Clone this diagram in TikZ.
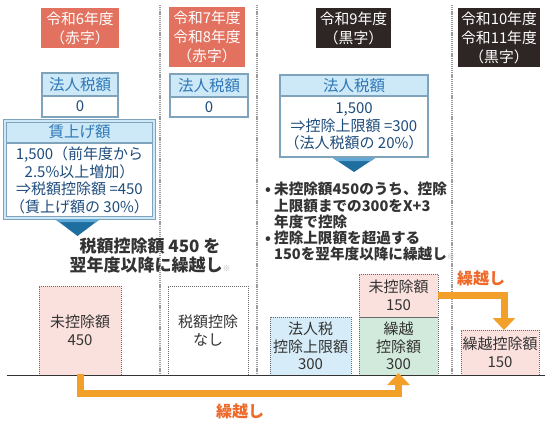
\documentclass[tikz,border=0pt]{standalone}
\usepackage{fontspec}
\newfontfamily\cjk{Noto Sans CJK JP}
\usetikzlibrary{arrows.meta}
\definecolor{hred}{HTML}{E2725F}
\definecolor{hdark}{HTML}{2E2624}
\definecolor{tblline}{HTML}{7FA3BA}
\definecolor{tblfill}{HTML}{CDE8F7}
\definecolor{tblhd}{HTML}{2E78B7}
\definecolor{tbltx}{HTML}{1E4C7C}
\definecolor{dotc}{HTML}{6A6A6A}
\definecolor{sepc}{HTML}{9C9C9C}
\definecolor{txgray}{HTML}{333333}
\definecolor{pinkf}{HTML}{FBE1DD}
\definecolor{bluef}{HTML}{D6ECF8}
\definecolor{greenf}{HTML}{D2EADB}
\definecolor{orc}{HTML}{F2A02A}
\definecolor{ortx}{HTML}{EE6A2A}
\definecolor{chev}{HTML}{1F6EA0}
\definecolor{chevl}{HTML}{5FA8D6}
\tikzset{
 base/.style={font=\cjk\fontsize{15}{17.5}\selectfont, align=center, inner sep=0pt, outer sep=0pt, anchor=north west},
 hdr/.style={base, fill=#1, text=white, font=\cjk\fontsize{14.8}{19}\selectfont},
 thead/.style={base, draw=tblline, fill=tblfill, text=tblhd, line width=1.2pt, font=\cjk\fontsize{15.5}{17.5}\selectfont},
 tbody/.style={base, draw=tblline, fill=white, text=tbltx, line width=1.2pt},
 dbox/.style={base, draw=dotc, line width=1pt, dash pattern=on 1pt off 1pt, text=txgray},
 sepline/.style={draw=sepc, line width=2.2pt, dash pattern=on 1.2pt off 0.9pt},
 orr/.style={draw=orc, line width=7pt, -{Triangle[width=22pt,length=12pt]}},
 lbl/.style={font=\cjk\bfseries\fontsize{14.6}{16.3}\selectfont, text=txgray, inner sep=0pt},
 olbl/.style={font=\cjk\bfseries\fontsize{16}{16}\selectfont, text=ortx, inner sep=0pt}
}
\begin{document}
\begin{tikzpicture}[x=1pt,y=-1pt]
\useasboundingbox[fill=white] (0,0) rectangle (545,423);
% separators
\draw[sepline] (160,5) -- (160,375);
\draw[sepline] (257,5) -- (257,375);
\draw[sepline] (452,5) -- (452,375);
% headers
\node[hdr=hred, minimum width=78pt, minimum height=40pt] (h6) at (41,8) {令和6年度\\（赤字）};
\node[hdr=hred, minimum width=76pt, minimum height=60pt] (h78) at (169,7) {令和7年度\\令和8年度\\（赤字）};
\node[hdr=hdark, minimum width=75pt, minimum height=40pt] (h9) at (316,8) {令和9年度\\（黒字）};
\node[hdr=hdark, minimum width=82pt, minimum height=59pt] (h1011) at (458,8) {令和10年度\\令和11年度\\（黒字）};
% tables col1
\node[thead, minimum width=76pt, minimum height=23pt] (t1h) at (42,73) {法人税額};
\node[tbody, minimum width=76pt, minimum height=21pt] (t1b) at (42,96) {0};
% tables col2
\node[thead, minimum width=78pt, minimum height=23pt] (t2h) at (170,74) {法人税額};
\node[tbody, minimum width=78pt, minimum height=20pt] (t2b) at (170,97) {0};
% wage box
\node[thead, minimum width=149pt, minimum height=22pt] (wh) at (5,121) {賃上げ額};
\node[tbody, minimum width=149pt, minimum height=75pt] (wb) at (5,143) {1,500（前年度から\\2.5\%以上増加）\\⇒税額控除額 =450\\（賃上げ額の 30\%）};
\draw[tblline, line width=1pt, double=tblfill, double distance=2.2pt] (wh.north west) rectangle (wb.south east);
\fill[chev] (55,219) -- (100,219) -- (77.5,236) -- cycle;
\fill[chevl] (55,219) -- (100,219) -- (96,222) -- (59,222) -- cycle;
% col3 table
\node[thead, minimum width=148pt, minimum height=21pt] (t3h) at (280,75) {法人税額};
\node[tbody, minimum width=148pt, minimum height=61pt] (t3b) at (280,96) {1,500\\⇒控除上限額 =300\\（法人税額の 20\%）};
\fill[chev] (333,158) -- (375,158) -- (354,172) -- cycle;
\fill[chevl] (333,158) -- (375,158) -- (371,161) -- (337,161) -- cycle;
% labels
\node[lbl, font=\cjk\bfseries\fontsize{17}{19}\selectfont, align=center] (cl) at (150,256) {税額控除額 450 を\\翌年度以降に繰越し{\color{gray!60}\fontsize{8}{8}\selectfont ※}};
\node[lbl, anchor=north west, align=left] (bl) at (265,182) {\makebox[9pt][l]{•}未控除額450のうち、控除\\\hspace*{9pt}上限額までの300をX+3\\\hspace*{9pt}年度で控除\\\makebox[9pt][l]{•}控除上限額を超過する\\\hspace*{9pt}150を翌年度以降に繰越し{\color{gray!60}\fontsize{8}{8}\selectfont ※}};
% bottom boxes
\node[dbox, fill=pinkf, minimum width=82pt, minimum height=89pt] (u450) at (39,286) {未控除額\\450};
\node[dbox, fill=white, minimum width=80pt, minimum height=89pt] (none) at (168,286) {税額控除\\なし};
\node[dbox, fill=bluef, minimum width=81pt, minimum height=58pt] (lim) at (270,317) {法人税\\控除上限額\\300};
\node[dbox, fill=greenf, minimum width=79pt, minimum height=58pt] (k300) at (359,317) {繰越\\控除額\\300};
\node[dbox, fill=pinkf, minimum width=79pt, minimum height=43pt] (u150) at (359,274) {未控除額\\150};
\node[dbox, fill=pinkf, minimum width=78pt, minimum height=45pt] (k150) at (461,330) {繰越控除額\\150};
% baseline
\draw[line width=1.6pt, black!80] (7,375.5) -- (545,375.5);
% orange arrows
\draw[orr] ([yshift=1pt]u450.south) -- ++(0,19) -| ([yshift=2pt]k300.south);
\draw[orr] (u150.east) -| ([xshift=4pt]k150.north);
\node[olbl] (kl1) at (240,411) {繰越し};
\node[olbl] (kl2) at (481,278) {繰越し};
\end{tikzpicture}
\end{document}
